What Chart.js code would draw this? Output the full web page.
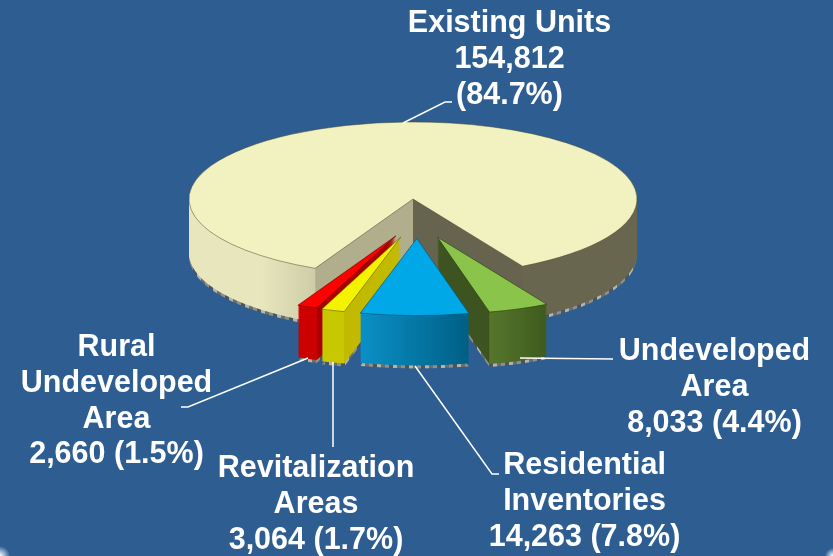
<!DOCTYPE html>
<html>
<head>
<meta charset="utf-8">
<title>Existing Units pie</title>
<script src="https://cdn.jsdelivr.net/npm/chart.js@4"></script>
<style>
  html, body { margin: 0; padding: 0; background: #2d5d91; }
  canvas {
    display: block;
    background:
      radial-gradient(circle at 0 100%, #ffffff 0, rgba(255,255,255,0) 10px),
      radial-gradient(circle at 100% 100%, #ffffff 0, rgba(255,255,255,0) 8px),
      #2d5d91;
  }
</style>
</head>
<body>
<canvas id="grafico" width="833" height="556"></canvas>
<script>
const categories = ["Existing Units", "Undeveloped Area", "Residential Inventories", "Revitalization Areas", "Rural Undeveloped Area"];
const units = [154812, 8033, 14263, 3064, 2660];
const percents = ["84.7%", "4.4%", "7.8%", "1.7%", "1.5%"];

const topColors = ["#f2f1c0", "#8ac44a", "#00a8e8", "#f5f200", "#ff0000"];
const borderColors = ["rgba(70,70,50,0.75)", "#2c3f14", "#00587c", "#6e6a00", "#7a0000"];
// [wall left of the front, front left, front right, wall right of the front]
const sideColors = [
  null,
  ["#3d5420", "#56762c", "#3f5a1e", "#3f5a1e"],
  ["#0a90c6", "#0a90c6", "#005f85", "#005f85"],
  ["#c8c800", "#c8c800", "#c8c800", "#c2ba00"],
  ["#cc0000", "#cc0000", "#cc0000", "#a80000"]
];
// the big slice has its own walls, shaded from left to right
const mainSide = ["#e8e6bc", "#cfcda8", "#b0ae8c", "#66644e", "#68664f"];
const speckle = ["#8d8f88", "#4a5560", "#b4b4aa", "#6a6e6c"];
const drawOrder = [0, 4, 3, 1, 2];

const tilt = 0.344;     // achata o círculo em elipse
const pieRadius = 224;
const pieDepth = [54, 52, 50, 52, 52];
const explode = [0, 119, 115, 116, 117];
const nudgeX = [0, -19, 5, 23, 29];

// texto de cada rótulo
const labelLines = [
  [categories[0], units[0].toLocaleString("en-US"), "(" + percents[0] + ")"],
  ["Undeveloped", "Area", units[1].toLocaleString("en-US") + " (" + percents[1] + ")"],
  ["Residential", "Inventories", units[2].toLocaleString("en-US") + " (" + percents[2] + ")"],
  ["Revitalization", "Areas", units[3].toLocaleString("en-US") + " (" + percents[3] + ")"],
  ["Rural", "Undeveloped", "Area", units[4].toLocaleString("en-US") + " (" + percents[4] + ")"]
];
const labelX = [509.5, 714.5, 584.5, 316, 116.5];
const labelY = [32, 360, 474, 477, 356];
const labelStep = 35.8;
const leaders = [
  [[403, 123], [445, 102], [452, 102]],
  [[520, 358], [613, 359]],
  [[415, 366], [492, 474], [499, 474]],
  [[333, 362], [333, 447]],
  [[308, 358], [188, 407], [181, 407]]
];

// Monta o degradê horizontal das paredes de uma fatia
function sideFill(ctx, el, i) {
  const r = el.outerRadius;
  const x0 = el.x - r;
  const pos = (x) => Math.min(1, Math.max(0, (x - x0) / (2 * r)));
  const a = el.x + Math.cos(el.startAngle) * r;
  const b = el.x + Math.cos(el.endAngle) * r;
  const left = pos(Math.min(a, b));
  const right = pos(Math.max(a, b));
  const g = ctx.createLinearGradient(x0, 0, x0 + 2 * r, 0);
  if (i === 0) {
    const c = mainSide;
    g.addColorStop(0, c[0]);
    g.addColorStop(0.16, c[0]);
    g.addColorStop(left, c[1]);
    g.addColorStop(left + 0.001, c[2]);
    g.addColorStop(0.5, c[2]);
    g.addColorStop(0.5001, c[3]);
    g.addColorStop(right, c[3]);
    g.addColorStop(right + 0.001, c[4]);
    g.addColorStop(1, c[4]);
  } else {
    const c = sideColors[i];
    g.addColorStop(0, c[0]);
    g.addColorStop(left, c[0]);
    g.addColorStop(left + 0.0001, c[1]);
    g.addColorStop(right, c[2]);
    g.addColorStop(right + 0.0001, c[3]);
    g.addColorStop(1, c[3]);
  }
  return g;
}

// Faixa serrilhada cinza que aparece embaixo do corte
function speckleFill(ctx, el) {
  const r = el.outerRadius;
  const g = ctx.createLinearGradient(el.x - r, 0, el.x + r, 0);
  const n = Math.round(2 * r / 4);
  for (let k = 0; k < n; k++) {
    const c = speckle[k % speckle.length];
    g.addColorStop(k / n, c);
    g.addColorStop((k + 0.99) / n, c);
  }
  return g;
}

function paintSlice(ctx, el, i, depth, options) {
  const mid = (el.startAngle + el.endAngle) / 2;
  const ghost = Object.create(el);
  ghost.options = Object.assign({}, el.options, options);
  ctx.save();
  ctx.translate(el.x, el.y + depth);
  ctx.scale(1, tilt);
  ctx.translate(-el.x, -el.y);
  ctx.translate(Math.cos(mid) * explode[i] + nudgeX[i], Math.sin(mid) * explode[i]);
  el.draw.call(ghost, ctx);
  ctx.restore();
}

const pie3d = {
  id: "pie3d",
  beforeDatasetDraw(chart, args) {
    const ctx = chart.ctx;
    drawOrder.forEach((i) => {
      const el = args.meta.data[i];
      const fill = sideFill(ctx, el, i);
      paintSlice(ctx, el, i, pieDepth[i] + 3, { backgroundColor: speckleFill(ctx, el), borderWidth: 0 });
      for (let d = pieDepth[i]; d > 0; d--) {
        paintSlice(ctx, el, i, d, { backgroundColor: fill, borderWidth: 0 });
      }
      paintSlice(ctx, el, i, 0, {});
    });
    return false;
  },
  afterDraw(chart) {
    const ctx = chart.ctx;
    ctx.save();
    ctx.strokeStyle = "#ffffff";
    ctx.lineWidth = 1.5;
    leaders.forEach((pts) => {
      ctx.beginPath();
      pts.forEach((p, n) => (n ? ctx.lineTo(p[0], p[1]) : ctx.moveTo(p[0], p[1])));
      ctx.stroke();
    });
    ctx.fillStyle = "#ffffff";
    ctx.font = "bold 30.5px 'Liberation Sans'";
    ctx.textAlign = "center";
    labelLines.forEach((lines, i) => {
      lines.forEach((t, n) => ctx.fillText(t, labelX[i], labelY[i] + n * labelStep));
    });
    ctx.restore();
  }
};

new Chart(document.getElementById("grafico"), {
  type: "pie",
  data: {
    labels: categories,
    datasets: [{
      data: units,
      backgroundColor: topColors,
      borderColor: borderColors,
      borderWidth: 1
    }]
  },
  options: {
    responsive: false,
    animation: false,
    rotation: 205.9,
    radius: pieRadius,
    layout: { padding: { right: 7, bottom: 158 } },
    plugins: { legend: { display: false }, tooltip: { enabled: false } }
  },
  plugins: [pie3d]
});
</script>
</body>
</html>
